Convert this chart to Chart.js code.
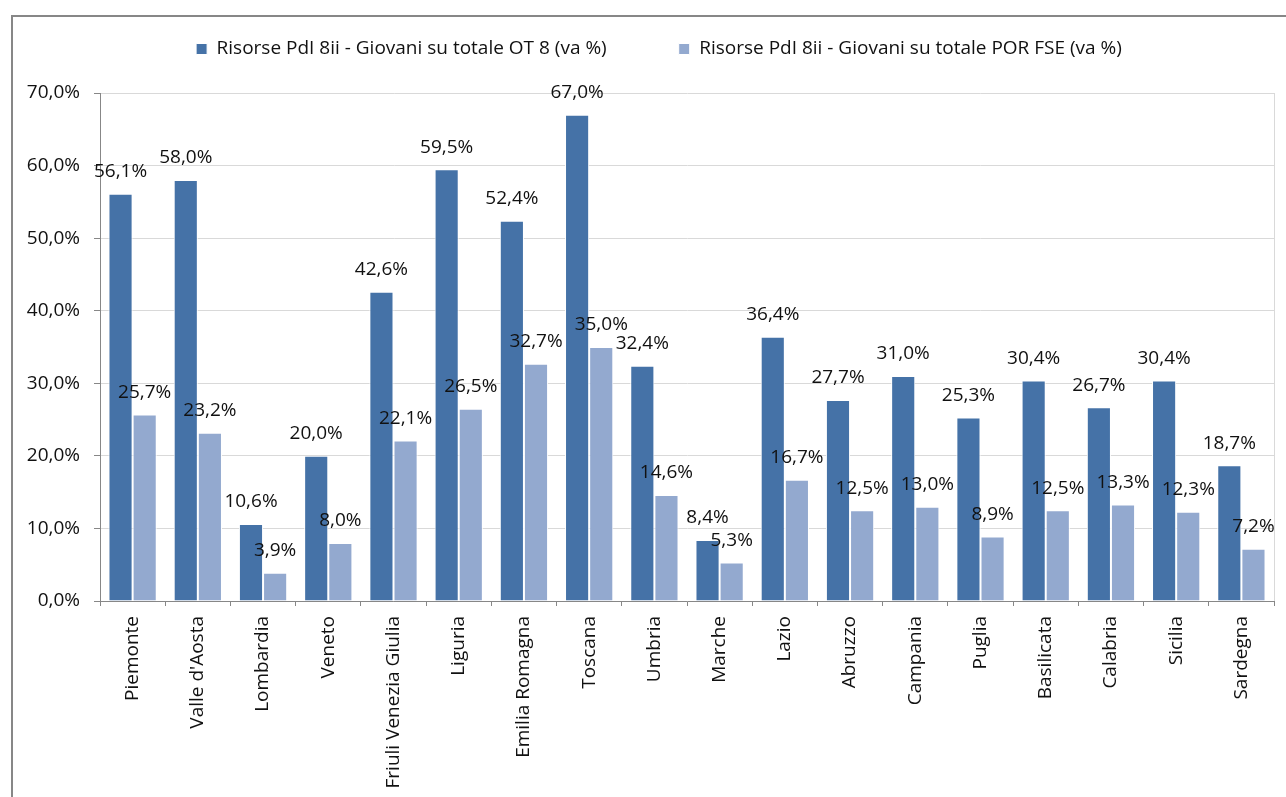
<!DOCTYPE html>
<html>
<head>
<meta charset="utf-8">
<script src="https://cdn.jsdelivr.net/npm/chart.js@4/dist/chart.umd.min.js"></script>
<style>
  html, body { margin: 0; padding: 0; background: #ffffff; overflow: hidden; width: 1286px; height: 797px; }
  #frame { position: absolute; left: 11px; top: 15px; width: 1290px; height: 800px; border: 2px solid #878787; background: #fff; }
  #wrap { position: absolute; left: 0; top: 0; width: 1290px; height: 800px; }
</style>
</head>
<body>
<div id="frame"><div id="wrap"><canvas id="c" width="1290" height="800"></canvas></div></div>
<script>
const categories = ["Piemonte", "Valle d'Aosta", "Lombardia", "Veneto", "Friuli Venezia Giulia", "Liguria", "Emilia Romagna", "Toscana", "Umbria", "Marche", "Lazio", "Abruzzo", "Campania", "Puglia", "Basilicata", "Calabria", "Sicilia", "Sardegna"];
const seriesOT8 = [56.1, 58.0, 10.6, 20.0, 42.6, 59.5, 52.4, 67.0, 32.4, 8.4, 36.4, 27.7, 31.0, 25.3, 30.4, 26.7, 30.4, 18.7];
const seriesPOR = [25.7, 23.2, 3.9, 8.0, 22.1, 26.5, 32.7, 35.0, 14.6, 5.3, 16.7, 12.5, 13.0, 8.9, 12.5, 13.3, 12.3, 7.2];
const seriesNames = ["Risorse PdI 8ii - Giovani su totale OT 8 (va %)", "Risorse PdI 8ii - Giovani su totale POR FSE (va %)"];
const yMin = 0, yMax = 70, yStep = 10;

const FONT = "'Open Sans', 'Noto Sans', sans-serif";
const FS = 19;
const LEGEND_PAD = 72;
const fmt = v => v.toFixed(1).replace('.', ',') + '%';

const legendLayout = {
  id: 'legendLayout',
  beforeInit(chart) {
    const lg = chart.legend;
    const orig = lg.fit;
    lg.fit = function () { orig.call(lg); lg.height = 76; };
  },
  afterLayout(chart) {
    const lg = chart.legend;
    lg.left += 31;
    lg.width -= 29;
    lg.top = 32 - LEGEND_PAD - FS / 2;
  }
};
const plotBorder = {
  id: 'plotBorder',
  beforeDatasetsDraw(chart) {
    const a = chart.chartArea, ctx = chart.ctx;
    ctx.save();
    ctx.strokeStyle = '#d9d9d9';
    ctx.lineWidth = 1;
    ctx.beginPath();
    ctx.moveTo(Math.round(a.right) + 0.5, a.top);
    ctx.lineTo(Math.round(a.right) + 0.5, a.bottom);
    ctx.stroke();
    ctx.restore();
  }
};
const valueLabels = {
  id: 'valueLabels',
  afterDatasetsDraw(chart) {
    const ctx = chart.ctx;
    ctx.save();
    ctx.font = FS + 'px ' + FONT;
    ctx.fillStyle = '#111111';
    ctx.textAlign = 'center';
    ctx.textBaseline = 'middle';
    chart.data.datasets.forEach((ds, i) => {
      const meta = chart.getDatasetMeta(i);
      meta.data.forEach((el, j) => {
        ctx.fillText(fmt(ds.data[j]), el.x, el.y - 22);
      });
    });
    ctx.restore();
  }
};

new Chart(document.getElementById('c'), {
  type: 'bar',
  data: {
    labels: categories,
    datasets: [
      { label: seriesNames[0], data: seriesOT8, backgroundColor: '#4572a7', borderColor: '#ffffff', borderWidth: 1, borderSkipped: 'bottom', categoryPercentage: 0.74, barPercentage: 1.0 },
      { label: seriesNames[1], data: seriesPOR, backgroundColor: '#93a9cf', borderColor: '#ffffff', borderWidth: 1, borderSkipped: 'bottom', categoryPercentage: 0.74, barPercentage: 1.0 }
    ]
  },
  options: {
    responsive: false,
    animation: false,
    layout: { padding: { left: 0, right: 29, top: 0, bottom: 0 } },
    plugins: {
      tooltip: { enabled: false },
      legend: {
        position: 'top',
        labels: { font: { family: FONT, size: FS }, color: '#111111', boxWidth: 11, boxHeight: 11, padding: LEGEND_PAD }
      }
    },
    scales: {
      x: {
        offset: true,
        grid: { display: true, drawOnChartArea: false, drawTicks: true, tickLength: 5, color: '#878787', offset: true },
        border: { display: true, color: '#878787', width: 1 },
        ticks: { autoSkip: false, minRotation: 90, maxRotation: 90, padding: 10, font: { family: FONT, size: FS }, color: '#111111' },
        afterFit(scale) { scale.height = 216; }
      },
      y: {
        min: yMin, max: yMax,
        grid: { color: '#d9d9d9', tickColor: '#878787', tickLength: 6, drawTicks: true },
        border: { display: true, color: '#878787', width: 1 },
        ticks: { stepSize: yStep, padding: 14, font: { family: FONT, size: FS }, color: '#111111', callback: v => fmt(v) },
        afterFit(scale) { scale.width = 87; }
      }
    }
  },
  plugins: [legendLayout, plotBorder, valueLabels]
});
</script>
</body>
</html>
